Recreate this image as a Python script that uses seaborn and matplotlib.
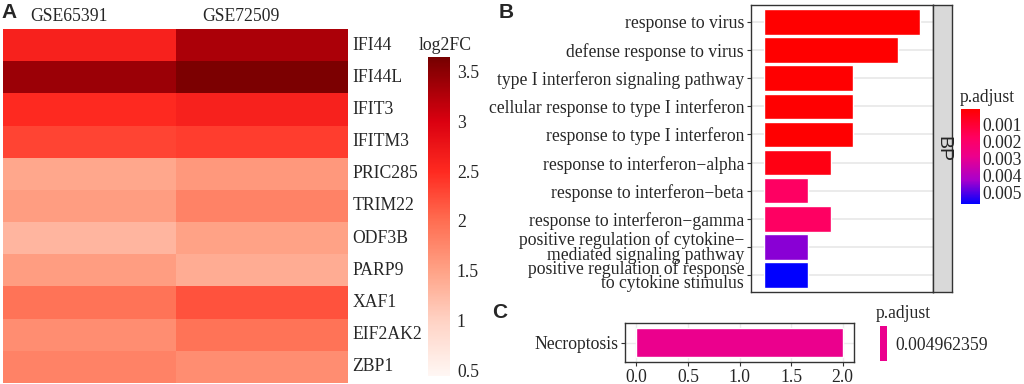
import numpy as np
import pandas as pd
import matplotlib
matplotlib.use("Agg")
import matplotlib.pyplot as plt
import seaborn as sns
from matplotlib.colors import LinearSegmentedColormap, Normalize, ListedColormap

# ---------------- data ----------------
genes = ["IFI44", "IFI44L", "IFIT3", "IFITM3", "PRIC285", "TRIM22", "ODF3B",
         "PARP9", "XAF1", "EIF2AK2", "ZBP1"]
datasets = ["GSE65391", "GSE72509"]
fc_gse65391 = [2.6, 3.4, 2.5, 2.3, 1.45, 1.55, 1.3, 1.55, 1.95, 1.7, 1.8]
fc_gse72509 = [3.3, 3.6, 2.6, 2.35, 1.6, 1.8, 1.5, 1.4, 2.2, 1.95, 1.7]
fc_ticks = [0.5, 1, 1.5, 2, 2.5, 3, 3.5]

go_terms = ["response to virus", "defense response to virus",
            "type I interferon signaling pathway",
            "cellular response to type I interferon",
            "response to type I interferon", "response to interferon\u2212alpha",
            "response to interferon\u2212beta", "response to interferon\u2212gamma",
            "positive regulation of cytokine\u2212\nmediated signaling pathway",
            "positive regulation of response\nto cytokine stimulus"]
go_counts = [7, 6, 4, 4, 4, 3, 2, 3, 2, 2]
go_padj = [0.00006, 0.00006, 0.0001, 0.0001, 0.0001, 0.0004, 0.0018, 0.0018, 0.0045, 0.00565]
padj_ticks = [0.001, 0.002, 0.003, 0.004, 0.005]
go_facet = "BP"

kegg_terms = ["Necroptosis"]
kegg_counts = [2]
kegg_padj = [0.004962359]
kegg_ticks = [0.0, 0.5, 1.0, 1.5, 2.0]

# ---------------- style ----------------
sns.set_style("white")
plt.rcParams["font.family"] = ["Liberation Serif", "DejaVu Serif"]
FS = 12.7

W, H = 1024, 384
fig = plt.figure(figsize=(W / 100, H / 100), dpi=100)

def box(x0, y0, x1, y1):
    return [x0 / W, 1 - y1 / H, (x1 - x0) / W, (y1 - y0) / H]

# ---------------- panel A: heatmap ----------------
fc_cmap = LinearSegmentedColormap.from_list(
    "fc", [(0.0, "#FFF7F4"), (0.17, "#FFD3C5"), (0.33, "#FFA286"), (0.49, "#FF6C50"),
           (0.64, "#FF2A20"), (0.80, "#DA0010"), (1.0, "#760000")])
df = pd.DataFrame({datasets[0]: fc_gse65391, datasets[1]: fc_gse72509}, index=genes)

axA = fig.add_axes(box(3, 29, 348, 383))
caxA = fig.add_axes(box(428, 57, 450, 376))
sns.heatmap(df, ax=axA, cbar_ax=caxA, cmap=fc_cmap, vmin=0.44, vmax=3.65,
            linewidths=0, cbar_kws={"ticks": fc_ticks})
axA.xaxis.tick_top()
axA.set_xticks(np.arange(len(datasets)) + 0.38)
axA.set_xticklabels(datasets, fontsize=FS, rotation=0)
axA.yaxis.tick_right()
axA.set_yticklabels(genes, fontsize=FS, rotation=0, va="center")
axA.tick_params(length=0, pad=3)
axA.set_xlabel("")
axA.set_ylabel("")
caxA.tick_params(length=0, labelsize=FS, pad=5)
caxA.set_yticklabels([f"{t:g}" for t in fc_ticks])
for s in caxA.spines.values():
    s.set_visible(False)
cbA = axA.collections[0].colorbar
if cbA is not None:
    cbA.outline.set_visible(False)
fig.text(445 / W, 1 - 45 / H, "log2FC", ha="center", va="center", fontsize=FS)

# ---------------- panel B: GO barplot ----------------
p_cmap = LinearSegmentedColormap.from_list(
    "padj", [(0.0, "#FF0000"), (0.3, "#FF0060"), (0.5, "#EC008C"),
             (0.75, "#A800CC"), (1.0, "#0000FF")])
p_norm = Normalize(vmin=min(go_padj), vmax=max(go_padj))
bar_colors = [p_cmap(p_norm(p)) for p in go_padj]

axB = fig.add_axes(box(751, 5, 933, 292))
dfB = pd.DataFrame({"term": go_terms, "count": go_counts})
sns.barplot(data=dfB, x="count", y="term", hue="term", palette=bar_colors,
            saturation=1, legend=False, width=0.9, edgecolor="white", linewidth=1,
            ax=axB, orient="h")
axB.set_xlim(-0.57, 7.57)
axB.set_ylim(len(go_terms) - 0.4, -0.6)
axB.set_xticks([])
axB.set_xlabel("")
axB.set_ylabel("")
axB.yaxis.grid(True, color="#EBEBEB", lw=1.4)
axB.set_axisbelow(True)
axB.tick_params(axis="y", left=True, length=3, width=0.8, color="#333333", pad=2)
for lab in axB.get_yticklabels():
    lab.set_fontsize(FS)
    lab.set_linespacing(0.8)
for s in axB.spines.values():
    s.set_visible(True)
    s.set_color("#333333")
    s.set_linewidth(1)

strip = fig.add_axes(box(933, 5, 952, 292))
strip.set_facecolor("#D9D9D9")
strip.set_xticks([])
strip.set_yticks([])
for s in strip.spines.values():
    s.set_visible(True)
    s.set_color("#333333")
    s.set_linewidth(1)
strip.text(0.5, 0.5, go_facet, rotation=-90, ha="center", va="center",
           fontsize=14, family="Liberation Sans", transform=strip.transAxes)

caxB = fig.add_axes(box(961, 109, 980, 204))
cbB = fig.colorbar(plt.cm.ScalarMappable(norm=p_norm, cmap=p_cmap), cax=caxB,
                   ticks=padj_ticks)
cbB.outline.set_visible(False)
caxB.invert_yaxis()
caxB.tick_params(axis="y", direction="in", color="white", length=3, width=0.8,
                 left=True, right=True, labelsize=FS, pad=2)
caxB.set_yticklabels([f"{t:.3f}" for t in padj_ticks])
fig.text(960 / W, 1 - 97 / H, "p.adjust", ha="left", va="center", fontsize=FS)

# ---------------- panel C: KEGG barplot ----------------
axC = fig.add_axes(box(625, 323, 854, 362))
dfC = pd.DataFrame({"term": kegg_terms, "count": kegg_counts})
c_color = p_cmap(0.5)
sns.barplot(data=dfC, x="count", y="term", color=c_color, saturation=1, width=0.9,
            edgecolor="white", linewidth=1, ax=axC, orient="h")
axC.set_xlim(-0.11, 2.11)
axC.set_ylim(0.6, -0.6)
axC.set_xticks(kegg_ticks)
axC.set_xticklabels([f"{t:.1f}" for t in kegg_ticks])
axC.set_xlabel("")
axC.set_ylabel("")
axC.grid(True, color="#EBEBEB", lw=1)
axC.set_axisbelow(True)
axC.tick_params(axis="both", length=3, width=0.8, color="#333333", labelsize=FS, pad=2,
                left=True, bottom=True)
for s in axC.spines.values():
    s.set_visible(True)
    s.set_color("#333333")
    s.set_linewidth(1)

caxC = fig.add_axes(box(880, 326, 887, 361))
cbC = fig.colorbar(plt.cm.ScalarMappable(norm=Normalize(kegg_padj[0] * 0.9, kegg_padj[0] * 1.1),
                                         cmap=ListedColormap([c_color])),
                   cax=caxC, ticks=kegg_padj)
cbC.outline.set_visible(False)
caxC.tick_params(axis="y", direction="in", color="white", length=2, width=0.8,
                 left=True, right=True, labelsize=FS, pad=6)
caxC.set_yticklabels([f"{v:.9f}" for v in kegg_padj])
fig.text(876 / W, 1 - 314 / H, "p.adjust", ha="left", va="center", fontsize=FS)

# ---------------- panel letters ----------------
for letter, (x, y) in {"A": (9, 12), "B": (506, 12), "C": (500, 313)}.items():
    fig.text(x / W, 1 - y / H, letter, ha="center", va="center", fontsize=15,
             fontweight="bold", family="Liberation Sans")

fig.savefig("out.png", dpi=100)
